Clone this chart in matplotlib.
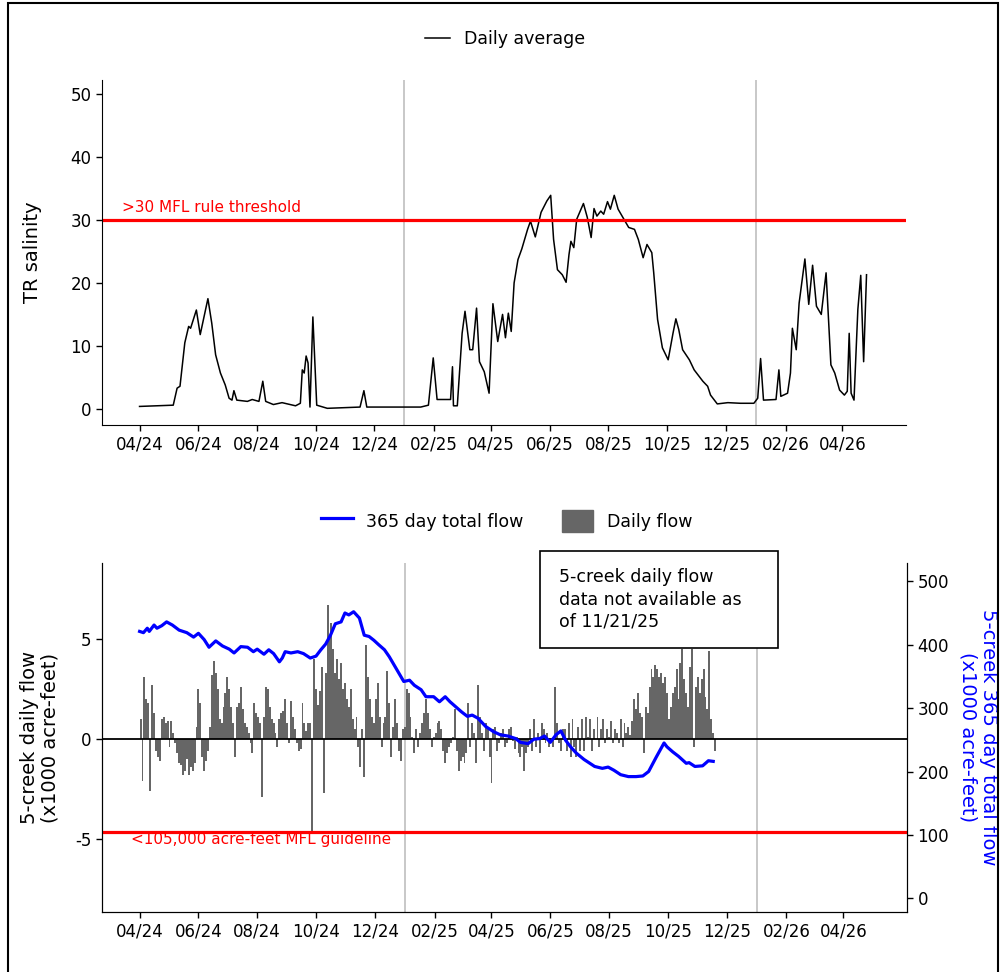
import numpy as np
import matplotlib
matplotlib.use('Agg')
import matplotlib.pyplot as plt
import matplotlib.dates as mdates
from matplotlib.lines import Line2D
from matplotlib.patches import Patch, Rectangle

# dias contados a partir de 01/04/2024
inicio = np.datetime64('2024-04-01')

# salinidade TR (media diaria) - vertices
sal_dia = [0, 35, 39, 42, 47, 51, 53, 59, 63, 71, 75, 79, 84, 89, 93, 96, 98, 101, 112, 117,
           124, 128, 131, 139, 148, 162, 167, 169, 171, 173, 175, 177, 180, 184, 195, 229, 233, 236,
           292, 300, 305, 309, 323, 325, 326, 330, 335, 338, 343, 346, 350, 353, 358, 363, 367,
           372, 377, 380, 383, 386, 389, 393, 397, 403, 406, 411, 417, 423, 427, 430, 434, 439,
           443, 446, 448, 451, 454, 461, 465, 469, 472, 475, 479, 482, 486, 489, 493, 497, 503,
           508, 514, 518, 523, 527, 532, 534, 538, 543, 549, 554, 557, 560, 564, 571, 576, 585,
           590, 593, 600, 611, 624, 638, 642, 645, 648, 661, 664, 666, 673, 676, 678, 682, 685,
           691, 695, 699, 703, 708, 713, 718, 722, 727, 732, 735, 737, 739, 742, 746, 749, 752, 755]
sal_val = [0.4, 0.6, 3.3, 3.6, 10.5, 13.1, 12.8, 15.7, 11.8, 17.5, 13.6, 8.6, 5.7, 3.8, 1.7, 1.4,
           2.9, 1.4, 1.2, 1.5, 1.2, 4.4, 1.2, 0.7, 1.0, 0.5, 0.9, 6.2, 5.7, 8.4, 7.3, 0.3, 14.6,
           0.6, 0.1, 0.3, 2.9, 0.3,
           0.3, 0.6, 8.1, 1.5, 1.5, 6.7, 0.5, 0.5, 12.0, 15.5, 9.4, 9.4, 16.0, 7.5, 5.9, 2.5, 16.7,
           10.7, 15.0, 11.3, 15.2, 12.3, 20.0, 23.7, 25.4, 28.5, 29.8, 27.3, 31.2, 33.0, 33.9, 26.9,
           22.1, 21.3, 20.1, 24.5, 26.6, 25.6, 30.1, 32.6, 30.4, 27.2, 31.8, 30.6, 31.4, 30.9, 32.9,
           31.7, 33.9, 31.7, 30.1, 28.8, 28.5, 26.9, 24.0, 26.1, 24.8, 21.6, 14.2, 9.7, 7.8, 12.0,
           14.3, 12.6, 9.4, 7.8, 6.2, 4.4, 3.6, 2.2, 0.8, 1.0, 0.9, 0.9, 1.7, 8.0, 1.4, 1.5, 6.2,
           2.0, 2.5, 5.7, 12.8, 9.4, 16.8, 23.8, 16.6, 22.8, 16.3, 15.0, 21.6, 7.0, 5.7, 3.0, 2.2,
           2.8, 12.0, 2.5, 1.4, 15.8, 21.2, 7.5, 21.3]

# vazao diaria dos 5 riachos (x1000 acre-feet), um valor a cada 2 dias
passo_vazao = 2
vazao = [1.0, -2.1, 3.1, 2.0, 1.8, -2.6, 2.7, 1.3, -0.6, -0.9,
         -1.1, 1.0, 1.1, 0.8, 0.9, -0.4, 0.9, 0.3, -0.2, -0.7,
         -1.2, -1.3, -1.8, -1.6, -1.0, -1.8, -1.4, -1.6, -1.2, 0.6,
         2.5, 1.8, -0.9, -1.6, -1.1, -0.6, 0.6, 3.2, 3.9, 3.3,
         2.5, 1.0, 0.8, 1.6, 2.3, 3.1, 2.5, 1.6, 0.8, -0.9,
         1.6, 1.8, 2.6, 1.5, 0.8, 0.6, 0.3, -0.2, -0.7, 1.8,
         1.3, 1.1, 0.8, -2.9, 1.1, 2.6, 2.5, 1.6, 1.0, 0.8,
         0.3, -0.4, 1.0, 1.3, 1.4, 2.0, 0.8, -0.2, 1.9, 1.1,
         0.5, -0.2, -0.6, -0.5, 1.8, 0.8,
         0.4, 0.8, 0.8, -4.6, 4.0, 2.5, 1.7, 2.4, 3.6, -2.7,
         3.3, 6.7, 5.0, 5.8, 4.5, 3.3, 4.0, 3.0, 3.8, 2.5,
         2.8, 2.0, 1.6, 2.5, 1.0, 0.5, 1.1, -0.4, -1.4, 0.5,
         -1.9, 4.7, 3.1, 2.0, 1.1, 0.8, 2.0, 2.8, 1.1, -0.4,
         0.8, 1.1, 3.4, 1.8, -0.9, 0.6, 2.0, 0.8, -0.6, -1.1,
         0.5, 0.6, 2.5, 2.3, 1.1, 0.1, -0.7, 0.5, -0.4, 0.3,
         0.8, 1.3, 2.0, 1.3, 0.5, -0.4, 0.1, 0.3, 0.8, 0.9,
         0.5, -0.6, -1.2, -0.7, -0.4, -0.2, 0.1, 1.5, -0.6, -1.6,
         -1.1, -0.9, -1.2, -0.7, 1.8, -0.4,
         0.8, 0.3, -1.2, 2.7, 1.1, 0.3, -0.6, 0.8, 0.5, -0.9,
         -2.2, 0.5, 0.6, -0.6, -0.2, 0.3, 0.5, -0.4, -0.2, 0.5,
         0.6, -0.1, -0.5, 0.1, -0.7, -0.9, -0.4, -1.6, -0.7, -0.4,
         0.5, -0.6, 1.0, -0.4, 0.3, -0.7, 0.8, 0.5, -0.2, 0.3,
         -0.4, -0.1, -0.4, 2.6, 0.8, -0.2, -0.6, 0.5, 0.5, -0.6,
         0.8, -0.9, 1.0, -0.4, -0.9, 0.6, -0.6, 1.0, -0.6, 1.1,
         0.1, 1.0, -0.6, 0.5, 0.0, 1.1, -0.4, 0.5, 1.0, -0.2,
         0.5, 0.1, 0.9, -0.2, 0.5, 0.3, -0.2, 1.0, -0.4, 0.8,
         0.3, 0.6, 0.2, 0.9, 2.0, 1.5,
         2.3, 1.3, 1.1, -0.7, 1.6, 1.3, 2.6, 3.5, 3.1, 3.7,
         3.5, 3.1, 3.3, 2.8, 3.1, 2.3, 1.0, 1.6, 2.3, 2.6,
         3.5, 2.0, 3.8, 4.5, 3.0, 2.3, 1.6, 3.6, 4.5, -0.4,
         2.6, 3.1, 2.3, 3.0, 3.5, 2.1, 1.5, 4.4, 1.0, 0.3,
         -0.6]

# vazao total de 365 dias (x1000 acre-feet)
tot_dia = [0, 4, 8, 10, 15, 18, 23, 28, 34, 41, 49, 56, 61, 67, 72, 79, 86, 93, 98, 105, 112,
           118, 122, 129, 134, 139, 145, 148, 151, 157, 164, 170, 177, 183, 188, 193, 198, 203,
           209, 213, 217, 222, 228, 233, 238, 243, 248, 254, 259, 264, 269, 274, 280, 285,
           292, 297, 305, 311, 317, 322, 328, 334, 340, 345, 351, 359, 367, 374, 382, 390, 395,
           403, 409, 415, 420, 426, 432, 437, 442, 447, 453, 461, 467, 472, 480, 486, 492, 499,
           507, 515, 522, 528, 536, 544, 547, 553, 559, 567, 570, 576, 584, 590, 595]
tot_val = [421, 419, 426, 421, 431, 426, 430, 436, 431, 423, 419, 412, 418, 408, 396, 406, 398,
           393, 387, 397, 396, 389, 393, 385, 392, 386, 373, 379, 389, 387, 389, 386, 379, 382,
           392, 401, 415, 433, 436, 450, 447, 452, 442, 415, 413, 407, 400, 392, 381, 368, 355,
           342, 344, 336,
           329, 318, 318, 310, 318, 310, 302, 294, 287, 289, 284, 271, 263, 258, 256, 252, 246,
           244, 251, 252, 256, 246, 258, 264, 249, 239, 229, 219, 213, 208, 205, 207, 202, 195,
           192, 192, 193, 200, 223, 245, 239, 231, 224, 213, 214, 208, 209, 217, 216]

limite_sal = 30
limite_vazao = 105
linhas_ano = ['2025-01-01', '2026-01-01']

sal_datas = inicio + np.array(sal_dia).astype('timedelta64[D]')
tot_datas = inicio + np.array(tot_dia).astype('timedelta64[D]')
vazao_datas = inicio + (np.arange(len(vazao)) * passo_vazao).astype('timedelta64[D]')
xlim = (np.datetime64('2024-02-22'), np.datetime64('2026-06-06'))
ticks_x = np.arange('2024-04', '2026-05', 2, dtype='datetime64[M]').astype('datetime64[D]')

plt.rcParams['font.family'] = ['DejaVu Sans']
plt.rcParams['axes.unicode_minus'] = False
fig = plt.figure(figsize=(10, 9.72), dpi=100)

def eixo_x(ax):
    ax.set_xlim(xlim)
    ax.set_xticks(ticks_x)
    ax.xaxis.set_major_formatter(mdates.DateFormatter('%m/%y'))
    ax.tick_params(labelsize=12, length=4, width=1, colors='black')
    for d in linhas_ano:
        ax.axvline(np.datetime64(d), color='#c4c4c4', lw=1.3, zorder=0)

def rotulo_centro(ax):
    ax.yaxis.label.set_va('center')
    ax.yaxis.label.set_ha('center')

# ---- painel de cima: salinidade
ax1 = fig.add_axes([0.102, 0.5628, 0.804, 0.3549])
eixo_x(ax1)
ax1.plot(sal_datas, sal_val, color='black', lw=1.1)
ax1.axhline(limite_sal, color='red', lw=2.3)
ax1.text(np.datetime64('2024-03-14'), 31.9, '>30 MFL rule threshold', color='red',
         fontsize=11, va='center')
ax1.set_ylim(-2.54, 52.2)
ax1.set_yticks([0, 10, 20, 30, 40, 50])
ax1.set_ylabel('TR salinity', fontsize=14)
rotulo_centro(ax1)
ax1.yaxis.set_label_coords(-0.087, 0.5)
for s in ['top', 'right']:
    ax1.spines[s].set_visible(False)

fig.legend(handles=[Line2D([], [], color='black', lw=1.1)], labels=['Daily average'],
           loc='center', bbox_to_anchor=(0.505, 0.96), frameon=False, fontsize=12.5,
           handlelength=1.4)

# ---- painel de baixo: vazao
ax2 = fig.add_axes([0.102, 0.0617, 0.805, 0.3591])
eixo_x(ax2)
ax2.bar(vazao_datas, vazao, width=passo_vazao, align='edge', color='#666666', lw=0, zorder=1)
ax2.axhline(0, color='black', lw=1.3, zorder=2)
ax2.set_ylim(-8.65, 8.8)
ax2.set_yticks([-5, 0, 5])
ax2.set_ylabel('5-creek daily flow\n(x1000 acre-feet)', fontsize=14, linespacing=1.1)
rotulo_centro(ax2)
ax2.yaxis.set_label_coords(-0.077, 0.5)
ax2.spines['top'].set_visible(False)

ax3 = ax2.twinx()
ax3.plot(tot_datas, tot_val, color='blue', lw=2.3)
ax3.axhline(limite_vazao, color='red', lw=2.3)
ax3.text(np.datetime64('2024-03-23'), 93.5, '<105,000 acre-feet MFL guideline', color='red',
         fontsize=11, va='center')
ax3.set_ylim(-21.6, 528.9)
ax3.set_yticks([0, 100, 200, 300, 400, 500])
ax3.tick_params(labelsize=12, length=4, width=1)
ax3.set_ylabel('5-creek 365 day total flow\n(x1000 acre-feet)', fontsize=14, color='blue',
               rotation=-90, linespacing=1.1)
rotulo_centro(ax3)
ax3.yaxis.set_label_coords(1.088, 0.5)
ax3.spines['top'].set_visible(False)

fig.legend(handles=[Line2D([], [], color='blue', lw=2.3), Patch(color='#666666')],
           labels=['365 day total flow', 'Daily flow'], ncol=2, loc='center',
           bbox_to_anchor=(0.507, 0.464), frameon=False, fontsize=12.5,
           handlelength=1.8, handleheight=1.6, columnspacing=2.2)

# caixa de aviso
fig.patches.append(Rectangle((0.540, 0.3333), 0.238, 0.0998, transform=fig.transFigure,
                             fill=True, fc='white', ec='black', lw=1.2, zorder=5))
fig.text(0.559, 0.3832, '5-creek daily flow\ndata not available as\nof 11/21/25',
         fontsize=12.5, va='center', ha='left', linespacing=1.3, zorder=6)

# moldura externa
fig.patches.append(Rectangle((0.008, -0.05), 0.99, 1.0469, transform=fig.transFigure,
                             fill=False, ec='black', lw=1.5))

fig.savefig('out.png', dpi=100)
